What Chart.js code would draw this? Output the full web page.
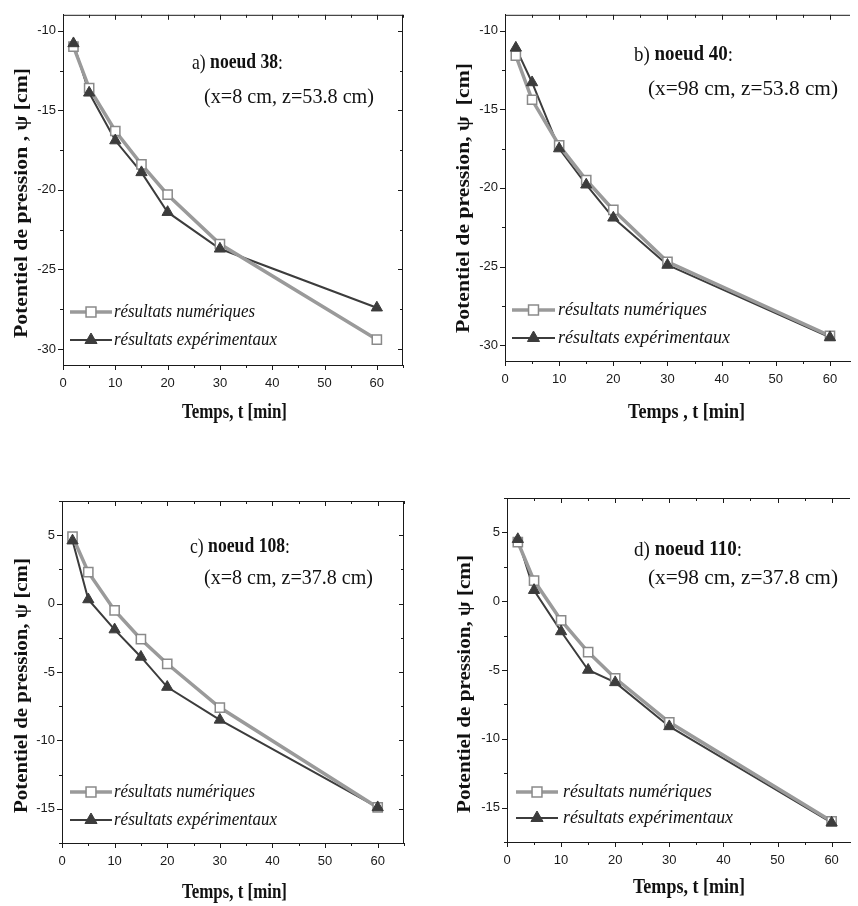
<!DOCTYPE html>
<html>
<head>
<meta charset="utf-8">
<script src="https://cdn.jsdelivr.net/npm/chart.js@4.4.1/dist/chart.umd.min.js"></script>
<style>
  html, body { margin: 0; padding: 0; background: #fff; overflow: hidden; }
  canvas { position: absolute; }
</style>
</head>
<body>
<canvas id="chartA" width="429" height="450" style="left:0;top:0"></canvas>
<canvas id="chartB" width="429" height="450" style="left:429px;top:0"></canvas>
<canvas id="chartC" width="429" height="456" style="left:0;top:450px"></canvas>
<canvas id="chartD" width="429" height="456" style="left:429px;top:450px"></canvas>
<script>
// time steps (min)
const times = [2, 5, 10, 15, 20, 30, 60];

// a) noeud 38
const numA = [-11.0, -13.6, -16.3, -18.4, -20.3, -23.4, -29.4];
const expA = [-10.8, -13.9, -16.9, -18.9, -21.4, -23.7, -27.4];
// b) noeud 40
const numB = [-11.6, -14.4, -17.3, -19.5, -21.4, -24.7, -29.4];
const expB = [-11.1, -13.3, -17.5, -19.8, -21.9, -24.9, -29.5];
// c) noeud 108
const numC = [4.9, 2.3, -0.5, -2.6, -4.4, -7.6, -14.9];
const expC = [4.6, 0.3, -1.9, -3.9, -6.1, -8.5, -14.9];
// d) noeud 110
const numD = [4.3, 1.5, -1.4, -3.7, -5.6, -8.8, -16.0];
const expD = [4.5, 0.8, -2.2, -5.0, -5.9, -9.1, -16.1];

const xTicks = [0, 10, 20, 30, 40, 50, 60];
const yTicksTop = [-30, -25, -20, -15, -10];
const yTicksBottom = [-15, -10, -5, 0, 5];

const legendLabels = ['résultats numériques', 'résultats expérimentaux'];

const INK = '#1a1a1a';
const GRAY = '#9a9a9a';
const DARK = '#3c3c3c';
const SERIF = "'Liberation Serif', 'Times New Roman', serif";
const SANS = "'Liberation Sans', Arial, sans-serif";

function toXY(vals) {
    return times.map((t, i) => ({ x: t, y: vals[i] }));
}

// draws a run of text parts squeezed/stretched to a given width
function fitText(ctx, parts, x, y, width) {
    let total = 0;
    parts.forEach(p => { ctx.font = p.font; total += ctx.measureText(p.text).width; });
    ctx.save();
    ctx.translate(x, y);
    ctx.scale(width / total, 1);
    let cx = 0;
    parts.forEach(p => {
        ctx.font = p.font;
        ctx.fillText(p.text, cx, 0);
        cx += ctx.measureText(p.text).width;
    });
    ctx.restore();
}

function minorTicks(major, min, max) {
    const half = (major[1] - major[0]) / 2;
    const out = [];
    major.forEach(v => {
        [v - half, v + half].forEach(m => {
            if (m >= min && m <= max && !out.includes(m)) out.push(m);
        });
    });
    return out;
}

const decorPlugin = {
    id: 'decor',
    afterDraw(chart) {
        const p = chart.options.plugins.decor;
        const { ctx, chartArea: a, scales: { x, y } } = chart;
        ctx.save();

        // frame top / right
        ctx.strokeStyle = INK;
        ctx.lineWidth = 1;
        ctx.beginPath();
        ctx.moveTo(a.left, a.top + 0.5);
        ctx.lineTo(a.right, a.top + 0.5);
        if (p.rightBorder) {
            ctx.moveTo(a.right - 0.5, a.top);
            ctx.lineTo(a.right - 0.5, a.bottom);
        }
        ctx.stroke();

        // tick marks: bottom/left outward, top/right inward
        const xMinor = minorTicks(xTicks, x.min, x.max);
        const yMajor = p.yTicks;
        const yMinor = minorTicks(yMajor, y.min, y.max);
        ctx.beginPath();
        const xt = (v, len) => {
            const px = Math.round(x.getPixelForValue(v)) + 0.5;
            ctx.moveTo(px, a.bottom); ctx.lineTo(px, a.bottom + len);
            ctx.moveTo(px, a.top); ctx.lineTo(px, a.top + len);
        };
        const yt = (v, len) => {
            const py = Math.round(y.getPixelForValue(v)) + 0.5;
            ctx.moveTo(a.left, py); ctx.lineTo(a.left - len, py);
            if (p.rightBorder) { ctx.moveTo(a.right, py); ctx.lineTo(a.right - len, py); }
        };
        xTicks.forEach(v => xt(v, 5));
        xMinor.forEach(v => xt(v, 3));
        yMajor.forEach(v => yt(v, 5));
        yMinor.forEach(v => yt(v, 3));
        ctx.stroke();

        ctx.fillStyle = '#111';
        ctx.textBaseline = 'middle';
        ctx.textAlign = 'left';
        const L = p.layout;

        // axis titles
        ctx.save();
        ctx.translate(L.yTitle[0], (L.yTitle[1] + L.yTitle[2]) / 2);
        ctx.rotate(-Math.PI / 2);
        const ylen = L.yTitle[2] - L.yTitle[1];
        fitText(ctx, [{ text: p.yTitle, font: 'bold 19px ' + SERIF }], -ylen / 2, 0, ylen);
        ctx.restore();
        fitText(ctx, [{ text: p.xTitle, font: 'bold 21px ' + SERIF }],
            L.xTitle[0], L.xTitle[2], L.xTitle[1] - L.xTitle[0]);

        // annotation
        fitText(ctx, [
            { text: p.tag + ' ', font: '21px ' + SERIF },
            { text: p.node, font: 'bold 21px ' + SERIF },
            { text: ':', font: '21px ' + SERIF }
        ], L.ann1[0], L.ann1[2], L.ann1[1] - L.ann1[0]);
        fitText(ctx, [{ text: p.coords, font: '21px ' + SERIF }],
            L.ann2[0], L.ann2[2], L.ann2[1] - L.ann2[0]);

        // legend
        const lg = L.legend;
        const sets = [chart.data.datasets[1], chart.data.datasets[0]];
        const lines = [chart.data.datasets[1], chart.data.datasets[2]];
        sets.forEach((ds, i) => {
            const ry = lg.rows[i];
            ctx.strokeStyle = lines[i].borderColor;
            ctx.lineWidth = lines[i].borderWidth;
            ctx.beginPath();
            ctx.moveTo(lg.line[0], ry);
            ctx.lineTo(lg.line[1], ry);
            ctx.stroke();
            ctx.fillStyle = ds.pointBackgroundColor;
            ctx.strokeStyle = ds.pointBorderColor;
            ctx.lineWidth = ds.pointBorderWidth;
            Chart.helpers.drawPoint(ctx, {
                pointStyle: ds.pointStyle, radius: ds.pointRadius + 0.5,
                borderWidth: ds.pointBorderWidth, rotation: 0
            }, (lg.line[0] + lg.line[1]) / 2, ry);
            ctx.fillStyle = '#111';
            fitText(ctx, [{ text: legendLabels[i], font: 'italic 19px ' + SERIF }],
                lg.text, ry, lg.w[i]);
        });

        ctx.restore();
    }
};

function makeChart(id, p) {
    const canvas = document.getElementById(id);
    const W = canvas.width, H = canvas.height;
    return new Chart(canvas, {
        type: 'line',
        data: {
            datasets: [
                {
                    label: legendLabels[1], data: toXY(p.exp), showLine: false,
                    pointStyle: 'triangle', pointRadius: 6.5,
                    pointBackgroundColor: DARK, pointBorderColor: DARK, pointBorderWidth: 1
                },
                {
                    label: legendLabels[0], data: toXY(p.num),
                    borderColor: GRAY, borderWidth: 3.5,
                    pointStyle: 'rect', pointRadius: 6.5,
                    pointBackgroundColor: '#fff', pointBorderColor: '#8a8a8a', pointBorderWidth: 1.5
                },
                {
                    label: legendLabels[1], data: toXY(p.exp),
                    borderColor: DARK, borderWidth: 2, pointRadius: 0
                }
            ]
        },
        options: {
            responsive: false,
            animation: false,
            layout: { padding: { top: p.area.top, right: W - p.area.right, left: 0, bottom: 0 } },
            plugins: {
                legend: { display: false },
                tooltip: { enabled: false },
                decor: p
            },
            elements: { line: { tension: 0 } },
            scales: {
                x: {
                    type: 'linear', min: 0, max: p.xMax,
                    afterBuildTicks: s => { s.ticks = xTicks.map(v => ({ value: v })); },
                    afterFit: s => { s.height = H - p.area.bottom; },
                    grid: { display: false, drawTicks: false },
                    border: { display: true, color: INK, width: 1 },
                    ticks: { padding: 11, color: INK, maxRotation: 0, autoSkip: false,
                             font: { family: SANS, size: 13 } }
                },
                y: {
                    type: 'linear', min: p.yMin, max: p.yMax,
                    afterBuildTicks: s => { s.ticks = p.yTicks.map(v => ({ value: v })); },
                    afterFit: s => { s.width = p.area.left; },
                    grid: { display: false, drawTicks: false },
                    border: { display: true, color: INK, width: 1 },
                    ticks: { padding: 7, color: INK, autoSkip: false,
                             font: { family: SANS, size: 13 } }
                }
            }
        },
        plugins: [decorPlugin]
    });
}

makeChart('chartA', {
    num: numA, exp: expA, yTicks: yTicksTop, yMin: -31, yMax: -9, xMax: 65, rightBorder: true,
    area: { left: 63, top: 11, right: 403, bottom: 365 },
    tag: 'a)', node: 'noeud 38', coords: '(x=8 cm, z=53.8 cm)',
    yTitle: 'Potentiel de pression , ψ [cm]', xTitle: 'Temps, t [min]',
    layout: { yTitle: [22, 68, 338], xTitle: [182, 287, 413], ann1: [192, 283, 63], ann2: [204, 374, 97],
              legend: { line: [70, 112], text: 114, w: [141, 163], rows: [312, 340] } }
});

makeChart('chartB', {
    num: numB, exp: expB, yTicks: yTicksTop, yMin: -31, yMax: -9, xMax: 63.7, rightBorder: false,
    area: { left: 76, top: 6, right: 429, bottom: 361 },
    tag: 'b)', node: 'noeud 40', coords: '(x=98 cm, z=53.8 cm)',
    yTitle: 'Potentiel de pression, ψ  [cm]', xTitle: 'Temps , t [min]',
    layout: { yTitle: [35, 63, 333], xTitle: [199, 316, 413], ann1: [205, 304, 55], ann2: [219, 409, 89],
              legend: { line: [83, 126], text: 129, w: [149, 172], rows: [310, 338] } }
});

makeChart('chartC', {
    num: numC, exp: expC, yTicks: yTicksBottom, yMin: -17.5, yMax: 7.5, xMax: 65, rightBorder: true,
    area: { left: 62, top: 51, right: 404, bottom: 393 },
    tag: 'c)', node: 'noeud 108', coords: '(x=8 cm, z=37.8 cm)',
    yTitle: 'Potentiel de pression, ψ [cm]', xTitle: 'Temps, t [min]',
    layout: { yTitle: [22, 108, 363], xTitle: [182, 287, 443], ann1: [190, 290, 97], ann2: [204, 373, 128],
              legend: { line: [70, 112], text: 114, w: [141, 163], rows: [342, 370] } }
});

makeChart('chartD', {
    num: numD, exp: expD, yTicks: yTicksBottom, yMin: -17.5, yMax: 7.5, xMax: 63.4, rightBorder: false,
    area: { left: 78, top: 48, right: 429, bottom: 392 },
    tag: 'd)', node: 'noeud 110', coords: '(x=98 cm, z=37.8 cm)',
    yTitle: 'Potentiel de pression, ψ [cm]', xTitle: 'Temps, t [min]',
    layout: { yTitle: [36, 105, 363], xTitle: [204, 316, 438], ann1: [205, 313, 100], ann2: [219, 409, 128],
              legend: { line: [87, 129], text: 134, w: [149, 170], rows: [342, 368] } }
});
</script>
</body>
</html>
